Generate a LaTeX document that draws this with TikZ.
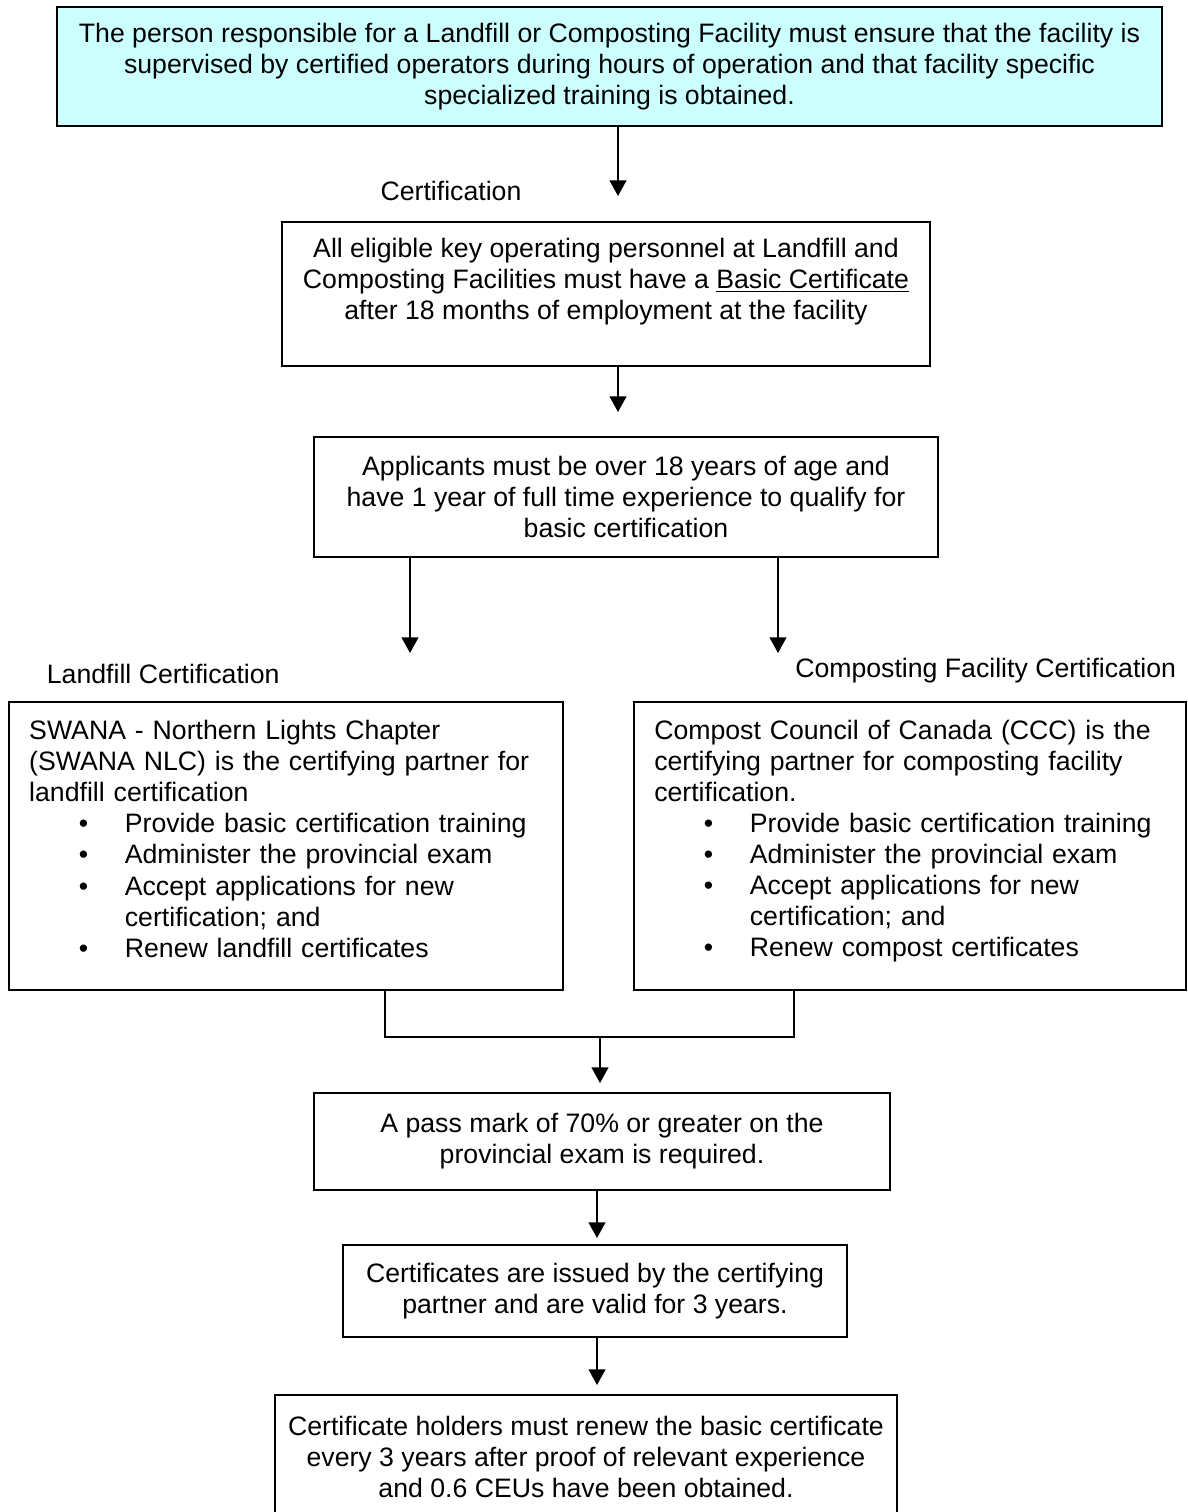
\documentclass[tikz,border=0pt]{standalone}
\usepackage{fontspec}
\setmainfont{Liberation Sans}
\usetikzlibrary{arrows.meta}
\definecolor{boxcyan}{HTML}{CCFFFF}
\newcommand{\bitem}[1]{\hspace*{22pt}\makebox[20.5pt][l]{\textbullet}#1}
\newcommand{\bcont}[1]{\hspace*{42.5pt}#1}

\begin{document}
\begin{tikzpicture}[x=0.4444pt,y=-0.4444pt,
  font=\fontsize{11.85}{13.8}\selectfont,
  >={Triangle[length=7pt,width=7.5pt]},
  line width=0.8pt,
  box/.style={draw,rectangle,inner sep=0pt,align=center},
  listbox/.style={draw,rectangle,inner xsep=9pt,inner ysep=0pt,align=left}]
\useasboundingbox (0,0) rectangle (1188,1512);

\node[box,fill=boxcyan,minimum width=491.1pt,minimum height=52.9pt] (resp) at (609.5,66.5)
  {The person responsible for a Landfill or Composting Facility must ensure that the facility is\\
   supervised by certified operators during hours of operation and that facility specific\\
   specialized training is obtained.};
\node (certlbl) at (451,191) {Certification};
\node[box,minimum width=288pt,minimum height=64pt] (basic) at (606,294)
  {All eligible key operating personnel at Landfill and\\
   Composting Facilities must have a \underline{Basic Certificate}\\
   after 18 months of employment at the facility\\[-4.4pt] \strut};
\node[box,minimum width=277.3pt,minimum height=53.3pt] (apply) at (626,497)
  {Applicants must be over 18 years of age and\\
   have 1 year of full time experience to qualify for\\
   basic certification};

\node[anchor=west,inner sep=0pt] (lflbl) at (46,674) {Landfill Certification};
\node[anchor=east,inner sep=0pt] (cplbl) at (1177,671) {Composting Facility Certification};

\node[listbox,text width=228.2pt,minimum height=128pt] (swana) at (286,846)
  {SWANA - Northern Lights Chapter\\
   (SWANA NLC) is the certifying partner for\\
   landfill certification\\
   \bitem{Provide basic certification training}\\
   \bitem{Administer the provincial exam}\\
   \bitem{Accept applications for new}\\
   \bcont{certification; and}\\
   \bitem{Renew landfill certificates}\\[-11.5pt] \strut};
\node[listbox,text width=227.3pt,minimum height=128pt] (ccc) at (910,846)
  {Compost Council of Canada (CCC) is the\\
   certifying partner for composting facility\\
   certification.\\
   \bitem{Provide basic certification training}\\
   \bitem{Administer the provincial exam}\\
   \bitem{Accept applications for new}\\
   \bcont{certification; and}\\
   \bitem{Renew compost certificates}\\[-11pt] \strut};

\node[box,minimum width=256pt,minimum height=43.1pt] (pass) at (602,1141.5)
  {A pass mark of 70\% or greater on the\\ provincial exam is required.};
\node[box,minimum width=224pt,minimum height=40.9pt] (issued) at (595,1291)
  {Certificates are issued by the certifying\\ partner and are valid for 3 years.};
\node[box,minimum width=276.4pt,minimum height=55.1pt] (renew) at (586,1457)
  {Certificate holders must renew the basic certificate\\
   every 3 years after proof of relevant experience\\
   and 0.6 CEUs have been obtained.};

% arrow tips and the join
\coordinate (t1) at (618,196);
\coordinate (t2) at (618,412);
\coordinate (t3) at (410,653);
\coordinate (t4) at (778,653);
\coordinate (jl) at (385,1037);
\coordinate (jr) at (794,1037);
\coordinate (t5) at (600,1083);
\coordinate (t6) at (597,1238);
\coordinate (t7) at (597,1385);

\draw[->] (resp.south -| t1) -- (t1);
\draw[->] (basic.south -| t2) -- (t2);
\draw[->] (apply.south -| t3) -- (t3);
\draw[->] (apply.south -| t4) -- (t4);
\draw (swana.south -| jl) -- (jl) -- (jr) -- (ccc.south -| jr);
\draw[->] (t5 |- jl) -- (t5);
\draw[->] (pass.south -| t6) -- (t6);
\draw[->] (issued.south -| t7) -- (t7);
\end{tikzpicture}
\end{document}
